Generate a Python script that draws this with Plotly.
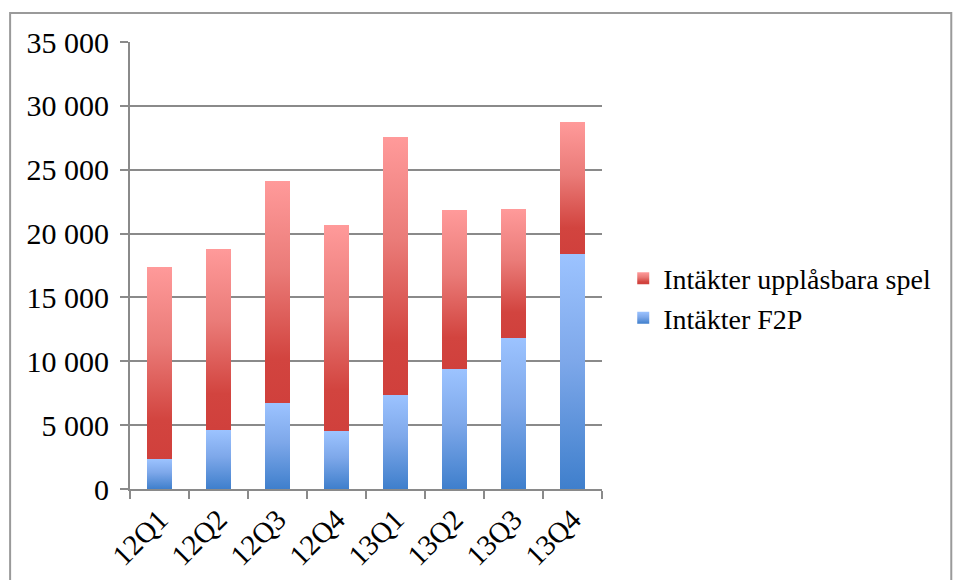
import plotly.graph_objects as go

categories = ["12Q1", "12Q2", "12Q3", "12Q4", "13Q1", "13Q2", "13Q3", "13Q4"]
f2p = [2350, 4620, 6710, 4520, 7390, 9370, 11820, 18380]
upplasbara = [15050, 14180, 17390, 16130, 20150, 12450, 10080, 10330]
tick_vals = [0, 5000, 10000, 15000, 20000, 25000, 30000, 35000]
tick_text = ["0", "5 000", "10 000", "15 000", "20 000", "25 000", "30 000", "35 000"]

FONT = "Liberation Serif"
GRID = "#8a8a8a"

fig = go.Figure()
fig.add_trace(go.Bar(x=categories, y=f2p, name="Intäkter F2P",
                     marker=dict(color="#6f9fe6", line=dict(width=0))))
fig.add_trace(go.Bar(x=categories, y=upplasbara, name="Intäkter upplåsbara spel",
                     marker=dict(color="#e56b69", line=dict(width=0))))

fig.update_layout(
    width=956, height=580,
    margin=dict(l=130, r=354, t=42, b=91, autoexpand=False),
    barmode="stack", bargap=0.59,
    paper_bgcolor="white", plot_bgcolor="white",
    font=dict(family=FONT, size=30, color="black"),
    showlegend=True,
    legend=dict(traceorder="reversed", x=1.045, y=0.427, xanchor="left", yanchor="middle",
                font=dict(family=FONT, size=28), itemsizing="constant", tracegroupgap=0,
                itemwidth=30, bgcolor="rgba(0,0,0,0)"),
    xaxis=dict(showgrid=False, showline=True, linecolor=GRID, linewidth=2, automargin=False,
               ticks="outside", tickson="boundaries", ticklen=8, tickcolor=GRID, tickwidth=2,
               tickangle=-45, tickfont=dict(family=FONT, size=29)),
    yaxis=dict(range=[0, 35000], tickvals=tick_vals, ticktext=tick_text, automargin=False,
               showgrid=True, gridcolor=GRID, gridwidth=2,
               showline=True, linecolor=GRID, linewidth=2, zeroline=False,
               ticks="outside", ticklen=8, tickcolor=GRID, tickwidth=2,
               ticklabelstandoff=5, tickfont=dict(family=FONT, size=30)),
    shapes=[dict(type="rect", xref="paper", yref="paper",
                 x0=-0.254, x1=1.74, y0=-0.3, y1=1.065,
                 line=dict(color="#9a9a9a", width=2), fillcolor="rgba(0,0,0,0)", layer="below")],
)

post = """
var gd = document.getElementById('{plot_id}');
function applyGrad(){
  var svg = gd.querySelector('svg.main-svg');
  if(!svg) return;
  var ns = 'http://www.w3.org/2000/svg';
  var defs = svg.querySelector('defs');
  function mk(id, stops){
    if(document.getElementById(id)) return;
    var g = document.createElementNS(ns,'linearGradient');
    g.setAttribute('id', id); g.setAttribute('x1','0'); g.setAttribute('y1','1');
    g.setAttribute('x2','0'); g.setAttribute('y2','0');
    stops.forEach(function(s){
      var st = document.createElementNS(ns,'stop');
      st.setAttribute('offset', s[0]); st.setAttribute('stop-color', s[1]);
      g.appendChild(st);
    });
    defs.appendChild(g);
  }
  mk('gBlueBar', [[0,'#3f7fcc'],[0.55,'#7ea8ea'],[1,'#9cc3ff']]);
  mk('gRedBar', [[0,'#d0403c'],[0.2,'#d2443f'],[0.6,'#ea7b78'],[1,'#ff9a9a']]);
  var ids = ['gBlueBar','gRedBar'];
  gd.querySelectorAll('.barlayer .trace.bars').forEach(function(t,i){
    t.querySelectorAll('path').forEach(function(p){ p.style.fill = 'url(#'+ids[i]+')'; });
  });
  gd.querySelectorAll('.legend .traces').forEach(function(t){
    var txt = t.querySelector('.legendtext').textContent;
    var id = txt.indexOf('F2P')>=0 ? 'gBlueBar' : 'gRedBar';
    t.querySelectorAll('.legendpoints path').forEach(function(p){ p.style.fill = 'url(#'+id+')'; });
  });
}
applyGrad();
gd.on && gd.on('plotly_afterplot', applyGrad);
"""

fig.write_html("out.html", post_script=post)
